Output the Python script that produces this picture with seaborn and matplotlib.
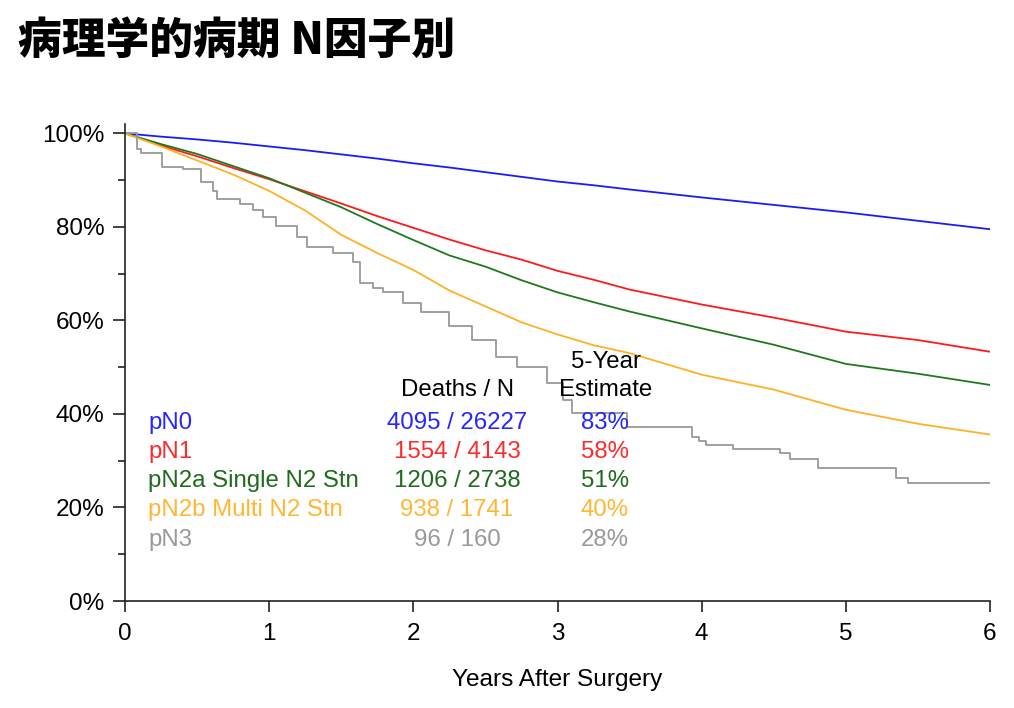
import matplotlib
matplotlib.use("Agg")
import matplotlib.pyplot as plt
from matplotlib.ticker import MultipleLocator, FuncFormatter
import seaborn as sns
import pandas as pd

# ---------------- data ----------------
years = [0, 0.25, 0.5, 0.75, 1, 1.25, 1.5, 1.75, 2, 2.25, 2.5, 2.75, 3, 3.25, 3.5, 4, 4.5, 5, 5.5, 6]
pN0 = [100, 99.3, 98.7, 98.0, 97.2, 96.4, 95.5, 94.6, 93.6, 92.7, 91.7, 90.7, 89.7, 88.9, 88.0, 86.3, 84.7, 83.1, 81.3, 79.5]
pN1 = [100, 97.4, 95.1, 92.6, 90.2, 87.6, 85.0, 82.3, 79.8, 77.3, 75.0, 73.0, 70.6, 68.7, 66.6, 63.4, 60.6, 57.6, 55.8, 53.3]
pN2a = [100, 97.7, 95.6, 93.0, 90.4, 87.3, 84.2, 80.6, 77.2, 73.9, 71.5, 68.6, 66.0, 63.9, 61.9, 58.3, 54.8, 50.7, 48.6, 46.2]
pN2b = [100, 97.2, 94.2, 91.2, 87.7, 83.5, 78.3, 74.4, 70.8, 66.4, 63.0, 59.6, 57.0, 54.7, 53.0, 48.4, 45.2, 40.9, 37.9, 35.6]

pN3_years = [0, 0.08, 0.11, 0.26, 0.40, 0.53, 0.61, 0.64, 0.80, 0.89, 0.96, 1.05, 1.19, 1.26,
             1.44, 1.58, 1.63, 1.72, 1.79, 1.93, 2.05, 2.25, 2.41, 2.57, 2.72, 2.93, 3.04, 3.10,
             3.48, 3.93, 3.98, 4.03, 4.22, 4.54, 4.61, 4.81, 5.35, 5.43, 6.0]
pN3 = [100, 96.6, 95.9, 92.9, 92.3, 89.7, 87.6, 85.9, 84.8, 83.7, 82.2, 80.1, 77.9, 75.6,
       74.5, 72.4, 68.1, 67.0, 66.0, 63.8, 61.9, 58.7, 55.9, 52.2, 50.1, 46.7, 43.0, 40.3,
       37.3, 35.1, 34.3, 33.4, 32.5, 31.7, 30.4, 28.5, 26.3, 25.3, 25.3]

groups = ["pN0", "pN1", "pN2a Single N2 Stn", "pN2b Multi N2 Stn", "pN3"]
deaths_n = ["4095 / 26227", "1554 / 4143", "1206 / 2738", "938 / 1741", "96 / 160"]
five_year = ["83%", "58%", "51%", "40%", "28%"]

line_colors = ["#1a1aff", "#ff1a1a", "#1f7a1f", "#ffb126", "#999999"]
text_colors = ["#2626ff", "#ff2b2b", "#1e6b1e", "#ffb733", "#999999"]

title = "病理学的病期 N因子別"
xlabel = "Years After Surgery"

# ---------------- figure ----------------
sns.set_style("ticks")
plt.rcParams["font.family"] = ["Liberation Sans", "DejaVu Sans"]

fig = plt.figure(figsize=(10.14, 7.08), dpi=100)
ax = fig.add_axes([125 / 1014, 1 - 601 / 708, (990 - 125) / 1014, (601 - 124) / 708])

smooth = pd.DataFrame({
    "years": years * 4,
    "surv": pN0 + pN1 + pN2a + pN2b,
    "group": [groups[0]] * len(years) + [groups[1]] * len(years)
             + [groups[2]] * len(years) + [groups[3]] * len(years),
})
pal = dict(zip(groups, line_colors))
sns.lineplot(data=smooth, x="years", y="surv", hue="group", palette=pal,
             estimator=None, sort=False, linewidth=1.3, legend=False, ax=ax)

steps = pd.DataFrame({"years": pN3_years, "surv": pN3})
sns.lineplot(data=steps, x="years", y="surv", color=line_colors[4], estimator=None,
             sort=False, linewidth=1.3, drawstyle="steps-post", legend=False, ax=ax)

ax.set_xlim(0, 6)
ax.set_ylim(0, 102)
ax.xaxis.set_major_locator(MultipleLocator(1))
ax.yaxis.set_major_locator(MultipleLocator(20))
ax.yaxis.set_minor_locator(MultipleLocator(10))
ax.yaxis.set_major_formatter(FuncFormatter(lambda v, p: f"{int(v)}%"))
sns.despine(ax=ax)
for s in ("left", "bottom"):
    ax.spines[s].set_linewidth(1.2)
    ax.spines[s].set_color("#222222")
ax.tick_params(axis="y", which="major", length=9, width=1.2, labelsize=17.5, pad=6, colors="#222222")
ax.tick_params(axis="y", which="minor", length=5, width=1.2, colors="#222222")
ax.tick_params(axis="x", which="major", length=8, width=1.2, labelsize=17.5, pad=8, colors="#222222")
for lab in ax.get_xticklabels() + ax.get_yticklabels():
    lab.set_color("black")
ax.set_xlabel(xlabel, fontsize=17.6, labelpad=17, color="black")
ax.set_ylabel("")

# ---------------- table of counts ----------------
def fy(px):
    return 1 - px / 708

fs = 17.3
fig.text(606 / 1014, fy(362), "5-Year", ha="center", va="center", fontsize=fs, color="black")
fig.text(606 / 1014, fy(390), "Estimate", ha="center", va="center", fontsize=fs, color="black")
fig.text(458 / 1014, fy(390), "Deaths / N", ha="center", va="center", fontsize=fs, color="black")
row_y = [423, 452, 481, 510, 540]
for g, dn, fv, c, yy in zip(groups, deaths_n, five_year, text_colors, row_y):
    fig.text(148 / 1014, fy(yy), g, ha="left", va="center", fontsize=fs, color=c)
    fig.text(457 / 1014, fy(yy), dn, ha="center", va="center", fontsize=fs, color=c)
    fig.text(605 / 1014, fy(yy), fv, ha="center", va="center", fontsize=fs, color=c)

# ---------------- title ----------------
fig.text(18 / 1014, fy(40), title, ha="left", va="center", fontsize=31.5, fontweight="black",
         family=["Noto Sans CJK JP", "DejaVu Sans"], color="black")

fig.savefig("out.png", dpi=100)
